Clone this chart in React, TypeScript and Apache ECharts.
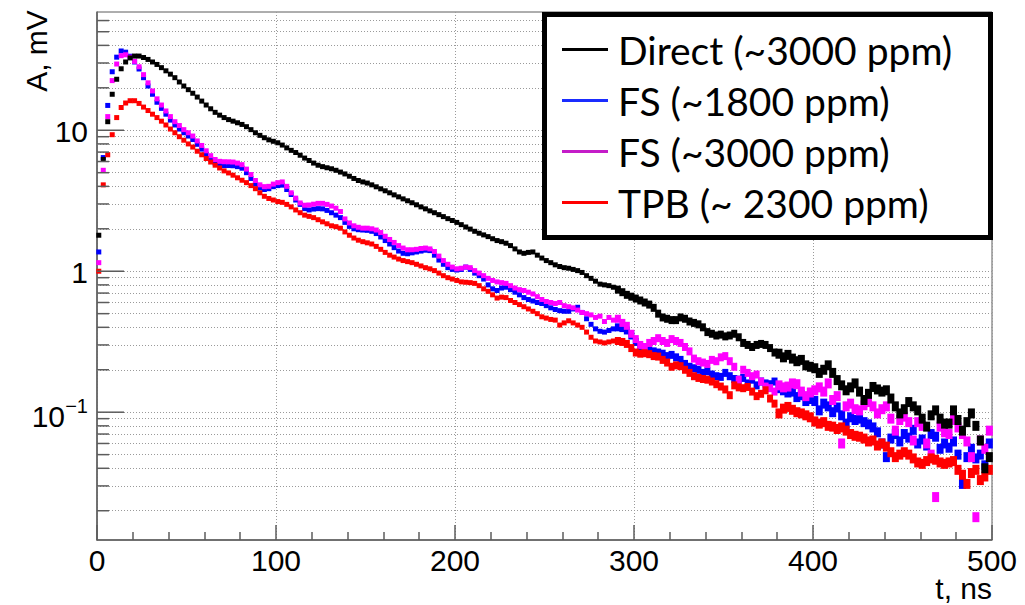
import React, { useEffect, useRef } from "react";
import * as echarts from "echarts";

// Histogram bins: centre of first bin and bin width (ns)
const binStart = 1;
const binWidth = 2.5;

const seriesNames = ["Direct (~3000 ppm)", "FS (~1800 ppm)", "FS (~3000 ppm)", "TPB (~ 2300 ppm)"];

// A, mV  — Direct (~3000 ppm)
const directVals = [
  1.8, 6.2, 11.5, 18.0, 23.0, 27.3, 30.5, 32.6, 33.6, 33.6,
  32.8, 31.8, 30.5, 29.3, 27.8, 26.4, 25.0, 23.6, 22.0, 20.6,
  19.4, 18.3, 17.2, 16.1, 15.1, 14.2, 13.4, 12.8, 12.3, 11.9,
  11.6, 11.3, 11.0, 10.6, 10.1, 9.6, 9.2, 8.85, 8.55, 8.35,
  8.15, 7.85, 7.5, 7.2, 6.95, 6.65, 6.35, 6.1, 5.85, 5.65,
  5.52, 5.42, 5.33, 5.2, 5.05, 4.9, 4.72, 4.55, 4.4, 4.3,
  4.22, 4.1, 3.97, 3.84, 3.72, 3.6, 3.48, 3.37, 3.26, 3.16,
  3.06, 2.96, 2.86, 2.77, 2.68, 2.6, 2.52, 2.44, 2.36, 2.29,
  2.22, 2.14, 2.06, 1.99, 1.92, 1.86, 1.81, 1.76, 1.7, 1.65,
  1.62, 1.58, 1.52, 1.44, 1.37, 1.34, 1.36, 1.37, 1.3, 1.24,
  1.19, 1.15, 1.11, 1.08, 1.06, 1.05, 1.03, 1.01, 0.98, 0.93,
  0.89, 0.85, 0.81, 0.8, 0.79, 0.77, 0.74, 0.71, 0.68, 0.66,
  0.64, 0.62, 0.6, 0.58, 0.55, 0.5, 0.47, 0.46, 0.45, 0.45,
  0.47, 0.46, 0.44, 0.43, 0.42, 0.4, 0.37, 0.36, 0.35, 0.355,
  0.345, 0.35, 0.36, 0.34, 0.31, 0.3, 0.29, 0.3, 0.305, 0.3,
  0.285, 0.265, 0.26, 0.245, 0.255, 0.24, 0.23, 0.235, 0.215, 0.21,
  0.205, 0.19, 0.2, 0.215, 0.19, 0.169, 0.155, 0.143, 0.15, 0.16,
  0.14, 0.122, 0.135, 0.151, 0.145, 0.14, 0.143, 0.125, 0.11, 0.098,
  0.105, 0.118, 0.11, 0.103, 0.09, 0.079, 0.095, 0.103, 0.09, 0.083,
  0.083, 0.103, 0.088, 0.074, 0.085, 0.098, 0.08, 0.063, 0.04, 0.048,
];

// FS (~1800 ppm)
const fs1800Vals = [
  1.37, 6.4, 15.0, 26.0, 33.0, 36.5, 35.8, 33.5, 30.5, 27.2,
  23.6, 20.6, 18.0, 15.8, 14.3, 13.0, 11.8, 10.9, 10.2, 9.6,
  9.1, 8.6, 7.95, 7.35, 6.75, 6.25, 5.85, 5.68, 5.62, 5.62,
  5.6, 5.52, 5.38, 5.0, 4.55, 4.15, 3.9, 3.8, 3.85, 3.98,
  4.05, 4.08, 3.8, 3.5, 3.2, 2.98, 2.78, 2.72, 2.76, 2.78,
  2.77, 2.7, 2.6, 2.5, 2.4, 2.22, 2.08, 2.0, 1.97, 1.96,
  1.95, 1.92, 1.85, 1.75, 1.65, 1.56, 1.47, 1.39, 1.34, 1.33,
  1.35, 1.37, 1.39, 1.41, 1.4, 1.3, 1.2, 1.12, 1.06, 1.03,
  1.02, 1.03, 1.07, 1.03, 0.97, 0.93, 0.88, 0.8, 0.75, 0.73,
  0.76, 0.77, 0.74, 0.71, 0.68, 0.65, 0.63, 0.615, 0.6, 0.59,
  0.57, 0.55, 0.535, 0.525, 0.52, 0.52, 0.54, 0.555, 0.51, 0.46,
  0.42, 0.39, 0.375, 0.37, 0.38, 0.39, 0.4, 0.395, 0.38, 0.35,
  0.315, 0.28, 0.27, 0.275, 0.27, 0.265, 0.26, 0.25, 0.255, 0.245,
  0.235, 0.22, 0.21, 0.205, 0.2, 0.19, 0.195, 0.185, 0.18, 0.178,
  0.19, 0.18, 0.172, 0.17, 0.175, 0.16, 0.17, 0.155, 0.165, 0.16,
  0.158, 0.165, 0.148, 0.143, 0.138, 0.14, 0.128, 0.132, 0.12, 0.124,
  0.12, 0.103, 0.115, 0.11, 0.1, 0.108, 0.095, 0.083, 0.092, 0.088,
  0.09, 0.085, 0.082, 0.078, 0.072, 0.06, 0.048, 0.065, 0.07, 0.062,
  0.07, 0.066, 0.075, 0.06, 0.064, 0.058, 0.07, 0.067, 0.055, 0.06,
  0.056, 0.062, 0.05, 0.031, 0.048, 0.055, 0.047, 0.05, 0.042, 0.06,
];

// FS (~3000 ppm)
const fs3000Vals = [
  1.15, 5.2, 12.5, 22.5, 29.5, 33.8, 34.3, 33.0, 30.8, 28.2,
  24.8, 21.7, 19.0, 16.7, 15.1, 13.7, 12.5, 11.5, 10.8, 10.1,
  9.6, 9.1, 8.4, 7.8, 7.15, 6.6, 6.2, 6.02, 5.98, 5.97,
  5.95, 5.85, 5.7, 5.3, 4.85, 4.4, 4.1, 3.98, 4.0, 4.15,
  4.25, 4.3, 4.0, 3.6, 3.3, 3.05, 2.94, 2.95, 2.99, 3.03,
  3.03, 2.98, 2.9, 2.8, 2.65, 2.35, 2.2, 2.1, 2.05, 2.02,
  2.02, 2.0, 1.96, 1.88, 1.77, 1.68, 1.6, 1.52, 1.46, 1.42,
  1.42, 1.43, 1.45, 1.46, 1.44, 1.38, 1.28, 1.19, 1.12, 1.07,
  1.04, 1.05, 1.07, 1.06, 1.01, 0.97, 0.93, 0.89, 0.86, 0.84,
  0.83, 0.82, 0.79, 0.76, 0.74, 0.73, 0.71, 0.69, 0.66, 0.63,
  0.61, 0.6, 0.59, 0.6, 0.57, 0.56, 0.55, 0.53, 0.51, 0.5,
  0.49, 0.47, 0.48, 0.44, 0.47, 0.45, 0.46, 0.43, 0.41, 0.36,
  0.33, 0.3, 0.29, 0.31, 0.32, 0.335, 0.32, 0.31, 0.33, 0.32,
  0.31, 0.29, 0.27, 0.24, 0.23, 0.225, 0.22, 0.235, 0.23, 0.245,
  0.25, 0.23, 0.21, 0.17, 0.2, 0.19, 0.18, 0.185, 0.165, 0.152,
  0.148, 0.14, 0.155, 0.15, 0.152, 0.16, 0.158, 0.14, 0.13, 0.138,
  0.143, 0.15, 0.14, 0.16, 0.122, 0.13, 0.06, 0.11, 0.115, 0.105,
  0.103, 0.112, 0.118, 0.11, 0.098, 0.105, 0.11, 0.09, 0.074, 0.088,
  0.093, 0.085, 0.063, 0.085, 0.08, 0.06, 0.05, 0.025, 0.079, 0.072,
  0.07, 0.088, 0.078, 0.07, 0.062, 0.048, 0.018, 0.063, 0.055, 0.074,
];

// TPB (~ 2300 ppm)
const tpbVals = [
  1.0, 4.1, 6.7, 9.3, 12.3, 14.5, 15.6, 16.2, 16.2, 15.5,
  14.6, 13.8, 13.0, 12.3, 11.6, 10.9, 10.2, 9.6, 9.0, 8.5,
  8.0, 7.6, 7.1, 6.7, 6.3, 5.95, 5.65, 5.4, 5.15, 4.98,
  4.8, 4.6, 4.42, 4.25, 4.05, 3.85, 3.6, 3.4, 3.28, 3.2,
  3.12, 3.08, 2.98, 2.86, 2.72, 2.6, 2.5, 2.45, 2.4, 2.32,
  2.24, 2.17, 2.1, 2.07, 2.02, 1.9, 1.8, 1.72, 1.66, 1.62,
  1.59, 1.56, 1.5, 1.43, 1.36, 1.3, 1.26, 1.22, 1.19, 1.17,
  1.15, 1.12, 1.09, 1.06, 1.04, 1.01, 0.97, 0.93, 0.9, 0.88,
  0.86, 0.84, 0.835, 0.83, 0.82, 0.79, 0.75, 0.72, 0.68, 0.645,
  0.655, 0.65, 0.62, 0.6, 0.58, 0.56, 0.54, 0.52, 0.5, 0.475,
  0.465, 0.455, 0.45, 0.415, 0.43, 0.445, 0.43, 0.415, 0.4, 0.37,
  0.34, 0.32, 0.315, 0.31, 0.315, 0.32, 0.32, 0.315, 0.305, 0.285,
  0.265, 0.26, 0.262, 0.258, 0.25, 0.248, 0.235, 0.225, 0.21, 0.215,
  0.212, 0.2, 0.19, 0.18, 0.175, 0.172, 0.17, 0.165, 0.158, 0.152,
  0.145, 0.132, 0.155, 0.15, 0.148, 0.151, 0.14, 0.13, 0.135, 0.143,
  0.125, 0.115, 0.098, 0.106, 0.109, 0.104, 0.1, 0.098, 0.095, 0.092,
  0.086, 0.083, 0.085, 0.08, 0.079, 0.076, 0.078, 0.074, 0.07, 0.068,
  0.067, 0.065, 0.062, 0.063, 0.058, 0.06, 0.057, 0.052, 0.048, 0.05,
  0.052, 0.05, 0.047, 0.044, 0.043, 0.045, 0.047, 0.046, 0.044, 0.043,
  0.044, 0.045, 0.039, 0.036, 0.031, 0.037, 0.039, 0.033, 0.035, 0.039,
];

// Axes
const xMin = 0;
const xMax = 500;
const xInterval = 100;
const yMin = 0.0124;
const yMax = 69;
const yMajor = [0.1, 1, 10];
const yMajorLabels = [["10", "\u22121"], ["1", ""], ["10", ""]];
const yMinor = [
  0.02, 0.03, 0.04, 0.05, 0.06, 0.07, 0.08, 0.09,
  0.2, 0.3, 0.4, 0.5, 0.6, 0.7, 0.8, 0.9,
  2, 3, 4, 5, 6, 7, 8, 9,
  20, 30, 40, 50, 60,
];
const xTitle = "t, ns";
const yTitle = "A, mV";

const colors = { direct: "#000000", fs1800: "#0000ff", fs3000: "#ff00ff", tpb: "#ff0000" };
const legendColors = ["#000000", "#1a2cff", "#c41cc8", "#ff0000"];

export default function App() {
  const ref = useRef<HTMLDivElement>(null);

  useEffect(() => {
    if (!ref.current) return;
    const chart = echarts.init(ref.current, null, { renderer: "svg" });
    const toPairs = (vals: number[]) => vals.map((v, i) => [binStart + i * binWidth, v]);
    const axisColor = "#5c5c5c";
    const gridColor = "#9a9a9a";
    const labelFont = "Liberation Sans";

    // later (noisier) bins are drawn as taller blocks, like ROOT's error bars
    const markSize = (val: number[]) => (val[0] < 290 ? 5 : val[0] < 380 ? [6, 8] : [7, 10]);

    const scatter = (name: string, vals: number[], color: string, z: number) => ({
      name,
      type: "scatter",
      data: toPairs(vals),
      symbol: "rect",
      symbolSize: markSize,
      itemStyle: { color, opacity: 1 },
      z,
      silent: true,
    });

    const gridLines = [...yMajor, ...yMinor].map((v) => ({ yAxis: v }));

    const option: any = {
      animation: false,
      backgroundColor: "#ffffff",
      grid: {
        left: 97,
        right: 33,
        top: 12,
        bottom: 65,
        show: true,
        borderColor: axisColor,
        borderWidth: 1,
        backgroundColor: "transparent",
      },
      xAxis: {
        type: "value",
        min: xMin,
        max: xMax,
        interval: xInterval,
        axisLine: { show: true, onZero: false, lineStyle: { color: axisColor, width: 1.5 } },
        axisTick: { show: true, inside: true, length: 15, lineStyle: { color: axisColor, width: 1.5 } },
        minorTick: { show: true, splitNumber: 5, length: 8, lineStyle: { color: axisColor, width: 1.5 } },
        splitLine: { show: true, lineStyle: { color: gridColor, type: [1, 2], width: 1 } },
        axisLabel: { fontSize: 30, lineHeight: 22, color: "#000", fontFamily: labelFont, margin: 9 },
      },
      yAxis: {
        type: "log",
        logBase: 10,
        min: yMin,
        max: yMax,
        axisLine: { show: true, onZero: false, lineStyle: { color: axisColor, width: 1.5 } },
        axisTick: { show: false },
        minorTick: { show: false },
        axisLabel: { show: false },
        splitLine: { show: false },
      },
      legend: {
        left: 562,
        top: 30,
        orient: "vertical",
        selectedMode: false,
        data: seriesNames.map((n, i) => ({ name: n, itemStyle: { color: legendColors[i] } })),
        icon: "rect",
        itemWidth: 46,
        itemHeight: 3,
        itemGap: 12,
        padding: 0,
        textStyle: { fontSize: 39, fontFamily: "Lato", color: "#000", padding: [0, 0, 0, 5] },
        z: 12,
      },
      series: [
        {
          name: "_grid",
          type: "scatter",
          data: [],
          z: 1,
          silent: true,
          markLine: {
            silent: true,
            z: 1,
            symbol: ["none", "none"],
            label: { show: false },
            lineStyle: { color: gridColor, type: [1, 2], width: 1 },
            data: gridLines,
          },
        },
        scatter(seriesNames[1], fs1800Vals, colors.fs1800, 3),
        scatter(seriesNames[2], fs3000Vals, colors.fs3000, 4),
        scatter(seriesNames[3], tpbVals, colors.tpb, 5),
        scatter(seriesNames[0], directVals, colors.direct, 6),
      ],
    };

    chart.setOption(option);

    const x0 = chart.convertToPixel({ xAxisIndex: 0 }, xMin) as number;
    const xEnd = chart.convertToPixel({ xAxisIndex: 0 }, xMax) as number;
    const py = (v: number) => chart.convertToPixel({ yAxisIndex: 0 }, v) as number;
    const graphics: any[] = [];
    // legend frame
    graphics.push({
      type: "rect",
      shape: { x: 544.5, y: 14.5, width: 446, height: 223 },
      style: { fill: "#fff", stroke: "#000", lineWidth: 5 },
      z: 11,
      zlevel: 0,
    });
    yMajor.forEach((v, i) => {
      const y = py(v);
      graphics.push({
        type: "line",
        shape: { x1: x0, y1: y, x2: x0 + 27, y2: y },
        style: { stroke: axisColor, lineWidth: 1.5 },
        z: 20,
      });
      const [base, exp] = yMajorLabels[i];
      if (exp) {
        graphics.push({
          type: "text",
          x: x0 - 9,
          y: y - 6,
          style: { text: exp, fontSize: 20, lineHeight: 16, fontFamily: labelFont, fill: "#000", align: "right", verticalAlign: "middle" },
          z: 20,
        });
        graphics.push({
          type: "text",
          x: x0 - 32,
          y: y + 4,
          style: { text: base, fontSize: 30, lineHeight: 22, fontFamily: labelFont, fill: "#000", align: "right", verticalAlign: "middle" },
          z: 20,
        });
      } else {
        graphics.push({
          type: "text",
          x: x0 - 9,
          y: y + 1,
          style: { text: base, fontSize: 30, lineHeight: 22, fontFamily: labelFont, fill: "#000", align: "right", verticalAlign: "middle" },
          z: 20,
        });
      }
    });
    yMinor.forEach((v) => {
      const y = py(v);
      graphics.push({
        type: "line",
        shape: { x1: x0, y1: y, x2: x0 + 12, y2: y },
        style: { stroke: axisColor, lineWidth: 1.5 },
        z: 20,
      });
    });
    graphics.push({
      type: "text",
      x: 36,
      y: 51,
      rotation: Math.PI / 2,
      style: { text: yTitle, fontSize: 30, lineHeight: 24, fontFamily: labelFont, fill: "#000", align: "center", verticalAlign: "middle" },
      z: 20,
    });
    graphics.push({
      type: "text",
      x: xEnd,
      y: 588,
      style: { text: xTitle, fontSize: 30, lineHeight: 24, fontFamily: labelFont, fill: "#000", align: "right", verticalAlign: "middle" },
      z: 20,
    });
    chart.setOption({ graphic: graphics });

    return () => {
      chart.dispose();
    };
  }, []);

  return (
    <div
      ref={ref}
      style={{ position: "fixed", left: 0, top: 0, width: 1025, height: 605, background: "#fff" }}
    />
  );
}
